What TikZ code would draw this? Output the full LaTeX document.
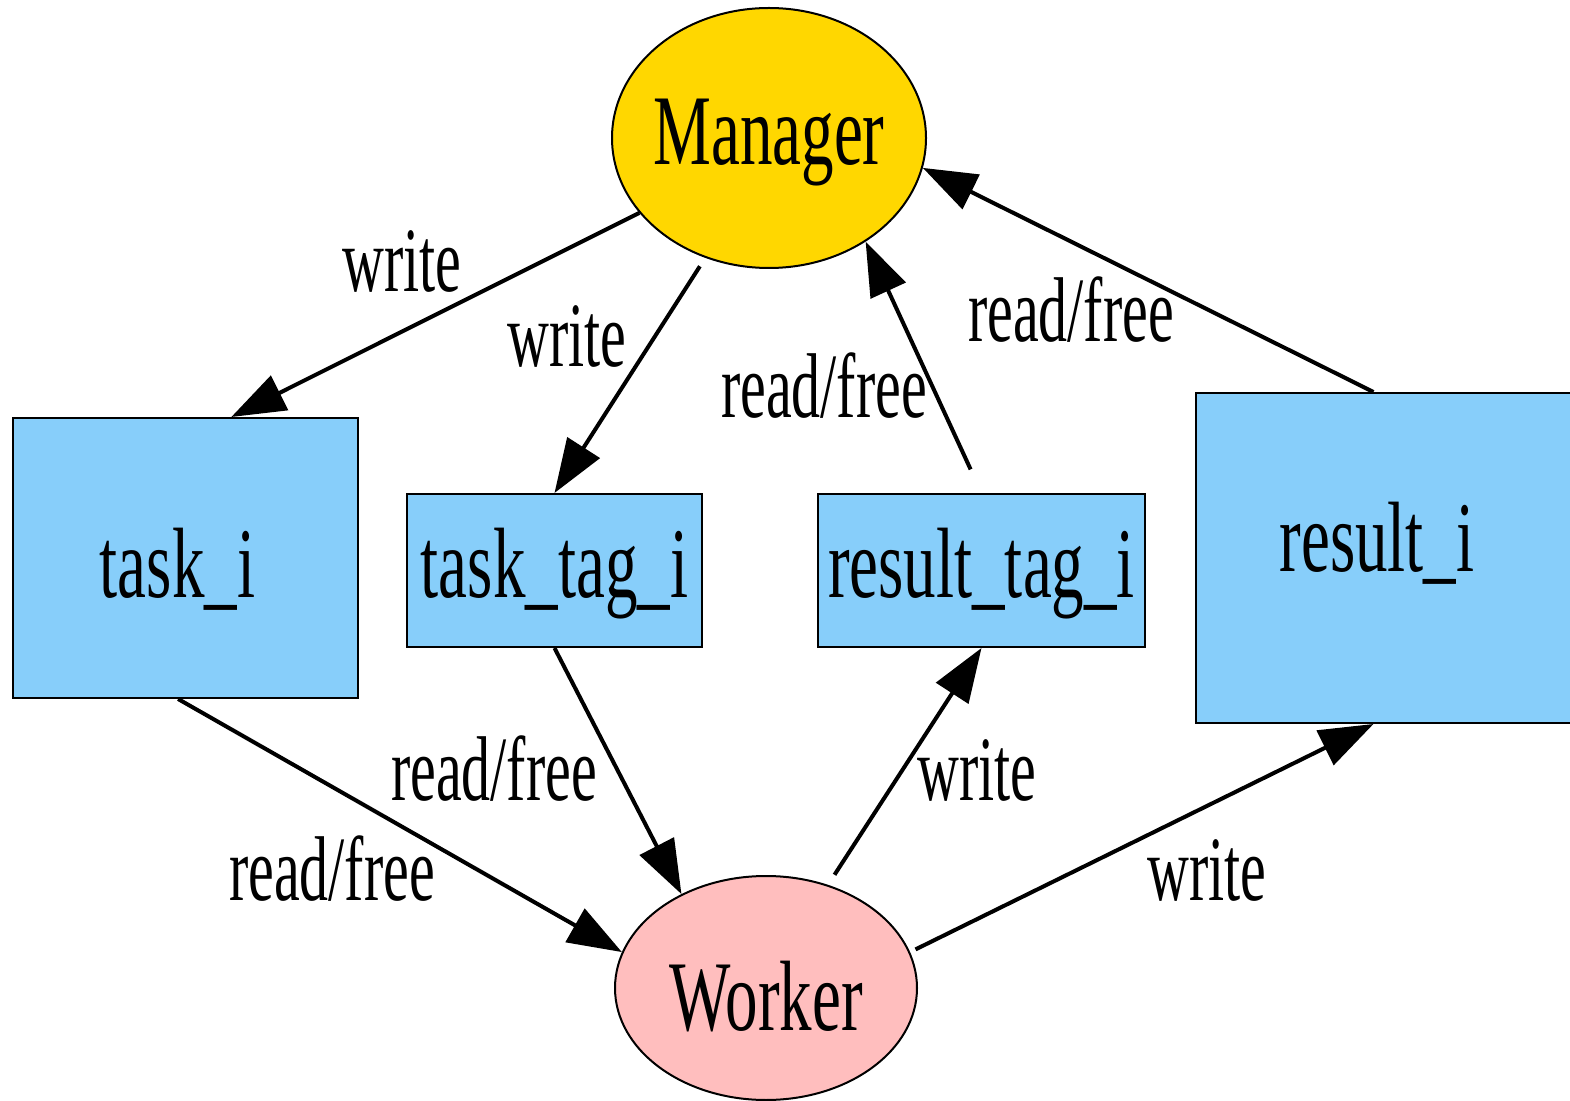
\documentclass[tikz,border=0pt]{standalone}
\usepackage{fontspec}
\setmainfont{Liberation Serif}
\newfontfamily\nodefont{Liberation Serif}[FakeStretch=0.65]
\newfontfamily\edgefont{Liberation Serif}[FakeStretch=0.63]
\usetikzlibrary{arrows.meta,shapes.geometric}
\definecolor{mgrgold}{HTML}{FFD700}
\definecolor{wrkpink}{RGB}{255,190,190}
\definecolor{bufblue}{HTML}{87CEFA}

\begin{document}
\begin{tikzpicture}[
    x=0.5pt, y=-0.5pt,
    proc/.style={%
      draw,
      ellipse,
      line width=1pt,
      inner xsep=-12pt,
      inner ysep=0pt,
      font=\nodefont\fontsize{50}{60}\selectfont,
    },
    buffer/.style={%
      draw,
      rectangle,
      fill=bufblue,
      line width=1pt,
      inner sep=0pt,
      font=\nodefont\fontsize{50}{60}\selectfont,
    },
    lift/.style={text height=#1, text depth=0pt},
    edge/.style={line width=2pt, -{Triangle[length=27pt,width=19pt]}},
    lbl/.style={anchor=base, inner sep=0pt, font=\edgefont\fontsize{46}{55}\selectfont},
  ]
    \useasboundingbox (0,0) rectangle (1570,1101);

    % processes
    \node [proc, fill=mgrgold, minimum width=157pt, minimum height=130pt, lift=27pt] (manager) at (769,138) {Manager};
    \node [proc, fill=wrkpink, minimum width=151pt, minimum height=112pt, lift=42pt] (worker) at (766,988) {Worker};

    % shared buffers (text of the big ones sits a bit left of centre)
    \node [buffer, minimum width=172.5pt, minimum height=140pt, lift=39pt] (task) at (185.5,558) {task\_i\rule{8pt}{0pt}};
    \node [buffer, minimum width=147.5pt, minimum height=76.5pt, lift=26.5pt] (taskTag) at (554.5,570.5) {task\_tag\_i};
    \node [buffer, minimum width=163.5pt, minimum height=76.5pt, lift=26.5pt] (resultTag) at (981.5,570.5) {result\_tag\_i};
    \node [buffer, minimum width=192pt, minimum height=165pt, lift=14pt] (result) at (1388,558) {result\_i\rule{11pt}{0pt}};

    % manager side
    \draw [edge] (manager.210) -- (task.72);
    \draw [edge, shorten <=5pt] (manager.242) -- (taskTag.north);
    \draw [edge, shorten <=13pt] (resultTag.north) -- (manager.-47);
    \draw [edge] (result.95) -- (manager.-11);

    % worker side
    \draw [edge] (task.267) -- (worker.166);
    \draw [edge] (taskTag.south) -- (worker.132);
    \draw [edge, shorten <=6pt] (worker.59) -- (resultTag.south);
    \draw [edge, shorten <=3pt] (worker.14) -- (result.265);

    % edge labels
    \node [lbl] (mgrTaskLbl) at (402,292) {write};
    \node [lbl] (mgrTagLbl) at (567,367) {write};
    \node [lbl] (tagMgrLbl) at (824,418) {read/free};
    \node [lbl] (resMgrLbl) at (1071,342) {read/free};
    \node [lbl] (taskWrkLbl) at (332,900) {read/free};
    \node [lbl] (tagWrkLbl) at (494,800) {read/free};
    \node [lbl] (wrkTagLbl) at (977,800) {write};
    \node [lbl] (wrkResLbl) at (1207,900) {write};
\end{tikzpicture}
\end{document}
